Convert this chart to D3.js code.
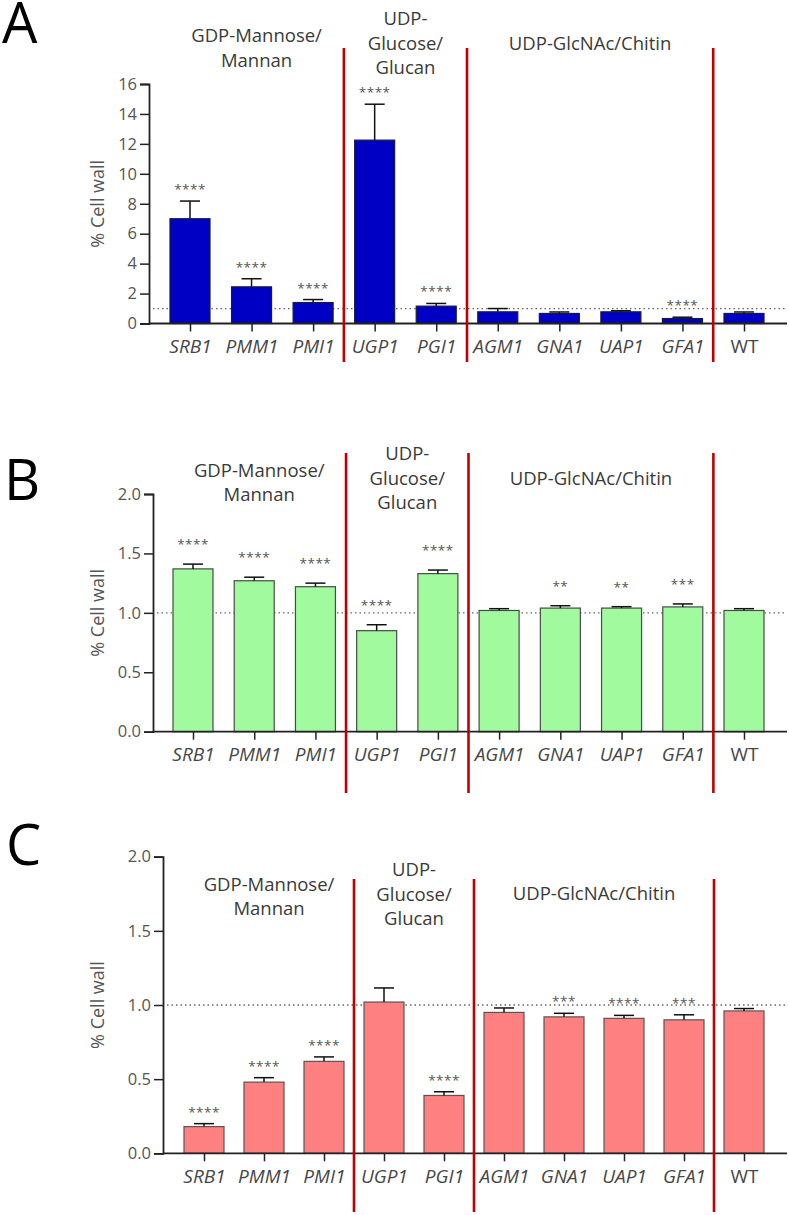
<!DOCTYPE html>
<html>
<head>
<meta charset="utf-8">
<script src="https://cdn.jsdelivr.net/npm/d3@7/dist/d3.min.js"></script>
<style>
  body { margin: 0; background: white; }
  svg { display: block; font-family: "Open Sans", "DejaVu Sans", sans-serif; }
</style>
</head>
<body>
<svg id="chart"></svg>
<script>
// Strains on the x axis
const categories = ['SRB1', 'PMM1', 'PMI1', 'UGP1', 'PGI1', 'AGM1', 'GNA1', 'UAP1', 'GFA1', 'WT'];

// Pathway groups over the bars
const groups = [
  { lines: ['GDP-Mannose/', 'Mannan'], first: 'SRB1', last: 'PMI1' },
  { lines: ['UDP-', 'Glucose/', 'Glucan'], first: 'UGP1', last: 'PGI1' },
  { lines: ['UDP-GlcNAc/Chitin'], first: 'AGM1', last: 'GFA1' }
];
const dividers = [['PMI1', 'UGP1'], ['PGI1', 'AGM1'], ['GFA1', 'WT']];

// Panel A
const meanA = [7.0, 2.45, 1.4, 12.25, 1.16, 0.78, 0.67, 0.78, 0.33, 0.67];
const errA = [1.18, 0.54, 0.2, 2.4, 0.18, 0.22, 0.1, 0.07, 0.09, 0.1];
const starsA = ['****', '****', '****', '****', '****', '', '', '', '****', ''];
const ticksA = [0, 2, 4, 6, 8, 10, 12, 14, 16];

// Panel B
const meanB = [1.37, 1.27, 1.22, 0.85, 1.33, 1.02, 1.04, 1.04, 1.05, 1.02];
const errB = [0.04, 0.03, 0.03, 0.05, 0.03, 0.015, 0.02, 0.012, 0.025, 0.015];
const starsB = ['****', '****', '****', '****', '****', '', '**', '**', '***', ''];
const ticksB = [0, 0.5, 1.0, 1.5, 2.0];

// Panel C
const meanC = [0.18, 0.48, 0.62, 1.02, 0.39, 0.95, 0.92, 0.91, 0.9, 0.96];
const errC = [0.02, 0.03, 0.03, 0.095, 0.025, 0.03, 0.024, 0.02, 0.034, 0.016];
const starsC = ['****', '****', '****', '', '****', '', '***', '****', '***', ''];
const ticksC = [0, 0.5, 1.0, 1.5, 2.0];

const textGrey = '#474747';
const redLine = '#c00000';

class BarPanel {
  constructor(_config) {
    this.config = _config;
  }

  initVis() {
    let vis = this;
    let c = vis.config;

    vis.g = d3.select('#chart').append('g');

    vis.x = d3.scalePoint()
        .domain(categories)
        .range([c.firstX, c.lastX]);

    vis.y = d3.scaleLinear()
        .domain([0, c.yMax])
        .range([c.bottom, c.top]);

    vis.data = categories.map((d, i) => ({
      name: d, mean: c.mean[i], err: c.err[i], stars: c.stars[i]
    }));

    // Panel letter
    vis.g.append('text')
        .attr('x', c.letterX)
        .attr('y', c.letterY)
        .style('font-size', '56px')
        .attr('fill', 'black')
        .text(c.letter);

    // Reference line at 1
    vis.g.append('line')
        .attr('x1', c.axisX + 4)
        .attr('x2', c.right)
        .attr('y1', vis.y(1))
        .attr('y2', vis.y(1))
        .attr('stroke', '#666')
        .attr('stroke-width', 1.3)
        .attr('stroke-dasharray', '1.5,3');

    // Bars
    vis.g.selectAll('rect.bar')
        .data(vis.data)
      .join('rect')
        .attr('class', 'bar')
        .attr('x', d => vis.x(d.name) - c.barW / 2)
        .attr('width', c.barW)
        .attr('y', d => vis.y(d.mean))
        .attr('height', d => vis.y(0) - vis.y(d.mean))
        .attr('fill', c.fill)
        .attr('stroke', c.stroke)
        .attr('stroke-width', 1.2);

    // Error bars (upper only)
    let eb = vis.g.selectAll('g.err')
        .data(vis.data)
      .join('g')
        .attr('class', 'err')
        .attr('stroke', '#111')
        .attr('stroke-width', 1.5);
    eb.append('line')
        .attr('x1', d => vis.x(d.name))
        .attr('x2', d => vis.x(d.name))
        .attr('y1', d => vis.y(d.mean))
        .attr('y2', d => vis.y(d.mean + d.err));
    eb.append('line')
        .attr('x1', d => vis.x(d.name) - 10)
        .attr('x2', d => vis.x(d.name) + 10)
        .attr('y1', d => vis.y(d.mean + d.err))
        .attr('y2', d => vis.y(d.mean + d.err));

    // Significance stars
    vis.g.selectAll('text.star')
        .data(vis.data.filter(d => d.stars))
      .join('text')
        .attr('class', 'star')
        .attr('x', d => vis.x(d.name))
        .attr('y', d => vis.y(d.mean + d.err) - c.starGap + 7)
        .attr('text-anchor', 'middle')
        .style('font-size', '13.5px')
        .attr('fill', '#555')
        .attr('letter-spacing', 0.5)
        .text(d => d.stars);

    // Y axis
    let yAxis = d3.axisLeft(vis.y)
        .tickValues(c.ticks)
        .tickFormat(c.fmt)
        .tickSize(9)
        .tickPadding(3);
    let ya = vis.g.append('g')
        .attr('transform', `translate(${c.axisX},0)`)
        .call(yAxis)
        .attr('font-size', null)
        .attr('font-family', null);
    ya.select('.domain').attr('stroke', '#222').attr('stroke-width', 1.8);
    ya.selectAll('.tick line').attr('stroke', '#222').attr('stroke-width', 1.5);
    ya.selectAll('.tick text')
        .style('font-size', '16.5px')
        .attr('fill', '#555');

    // X axis
    let xAxis = d3.axisBottom(vis.x)
        .tickSize(8)
        .tickPadding(8);
    let xa = vis.g.append('g')
        .attr('transform', `translate(0,${c.bottom})`)
        .call(xAxis)
        .attr('font-size', null)
        .attr('font-family', null);
    xa.select('.domain').remove();
    xa.append('line')
        .attr('x1', c.axisX)
        .attr('x2', c.right)
        .attr('stroke', '#222')
        .attr('stroke-width', 1.8);
    xa.selectAll('.tick line').attr('stroke', '#222').attr('stroke-width', 1.5);
    xa.selectAll('.tick text')
        .style('font-size', '19px')
        .style('font-style', d => d === 'WT' ? 'normal' : 'italic')
        .attr('fill', textGrey);

    // Y label
    vis.g.append('text')
        .attr('transform', `translate(${c.yLabelX},${(c.top + c.bottom) / 2}) rotate(-90)`)
        .attr('text-anchor', 'middle')
        .style('font-size', '18px')
        .attr('fill', '#555')
        .text('% Cell wall');

    // Red dividers between pathway groups
    vis.g.selectAll('line.divider')
        .data(dividers)
      .join('line')
        .attr('class', 'divider')
        .attr('x1', d => (vis.x(d[0]) + vis.x(d[1])) / 2)
        .attr('x2', d => (vis.x(d[0]) + vis.x(d[1])) / 2)
        .attr('y1', c.divTop)
        .attr('y2', c.divBottom)
        .attr('stroke', redLine)
        .attr('stroke-width', 2.6);

    // Group labels
    vis.g.selectAll('text.group')
        .data(groups)
      .join('text')
        .attr('class', 'group')
        .attr('text-anchor', 'middle')
        .style('font-size', '18.5px')
        .attr('fill', '#3a3a3a')
        .each(function(d, i) {
          let cx = (vis.x(d.first) + vis.x(d.last)) / 2 + (i === 0 ? 5 : 0);
          d3.select(this).selectAll('tspan')
              .data(d.lines)
            .join('tspan')
              .attr('x', cx)
              .attr('y', (t, j) => c.groupY[i] + j * 24.5)
              .text(t => t);
        });
  }
}

const W = 789, H = 1215;
d3.select('#chart').attr('width', W).attr('height', H);

const panels = [
  new BarPanel({
    letter: 'A', letterX: 2, letterY: 43,
    mean: meanA, err: errA, stars: starsA, ticks: ticksA, yMax: 16,
    fmt: d3.format('d'),
    top: 84, bottom: 323.5, axisX: 149, right: 787, firstX: 190, lastX: 744,
    barW: 40, fill: '#0000c4', stroke: '#1a1a3a', starGap: 14,
    yLabelX: 104, divTop: 48, divBottom: 362,
    groupY: [42, 25, 50]
  }),
  new BarPanel({
    letter: 'B', letterX: 4, letterY: 500,
    mean: meanB, err: errB, stars: starsB, ticks: ticksB, yMax: 2,
    fmt: d3.format('.1f'),
    top: 494, bottom: 731.7, axisX: 153, right: 787, firstX: 193, lastX: 744,
    barW: 40, fill: '#a1fa9e', stroke: '#4a4a4a', starGap: 22,
    yLabelX: 104, divTop: 453, divBottom: 793,
    groupY: [476.5, 460, 485]
  }),
  new BarPanel({
    letter: 'C', letterX: 6, letterY: 865,
    mean: meanC, err: errC, stars: starsC, ticks: ticksC, yMax: 2,
    fmt: d3.format('.1f'),
    top: 856.7, bottom: 1153.3, axisX: 163, right: 787, firstX: 204, lastX: 744,
    barW: 40, fill: '#ff8080', stroke: '#555', starGap: 14,
    yLabelX: 104, divTop: 879, divBottom: 1212,
    groupY: [890.5, 876, 899.5]
  })
];

panels.forEach(p => p.initVis());
</script>
</body>
</html>
